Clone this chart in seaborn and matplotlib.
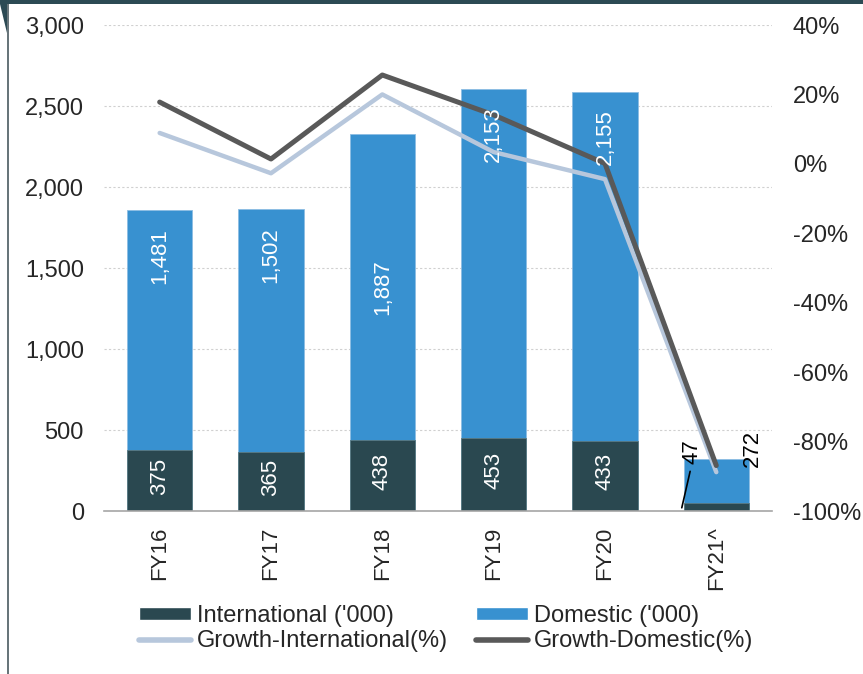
"""
Stacked passenger bars (international / domestic, '000) with growth lines on a
second axis, FY16 to FY21.
"""
import matplotlib
matplotlib.use("Agg")
import matplotlib.pyplot as plt
from matplotlib.lines import Line2D
from matplotlib.patches import Patch, Rectangle, Polygon
from matplotlib.ticker import FuncFormatter, FixedLocator
import numpy as np
import seaborn as sns

sns.set_style("white")
plt.rcParams["font.family"] = ["Liberation Sans", "DejaVu Sans"]

years = ["FY16", "FY17", "FY18", "FY19", "FY20", "FY21^"]
international = [375, 365, 438, 453, 433, 47]
domestic = [1481, 1502, 1887, 2153, 2155, 272]
growth_international = [8.9, -2.7, 20.0, 3.4, -4.4, -88.8]
growth_domestic = [17.8, 1.4, 25.6, 14.1, 0.1, -86.9]

DARK = "#2a4850"
BLUE = "#3891d0"
LIGHT_LINE = "#b7c7dc"
DARK_LINE = "#595959"

fig = plt.figure(figsize=(8.63, 6.74), dpi=100)
ax = fig.add_axes([0.1205, 0.2418, 0.774, 0.7211])

x = np.arange(len(years))
totals = [i + d for i, d in zip(international, domestic)]

# stacked look: total in blue, international drawn over it
sns.barplot(x=x, y=totals, color=BLUE, width=0.585, saturation=1, ax=ax,
            edgecolor="#8cbde3", linewidth=0.6, native_scale=True)
sns.barplot(x=x, y=international, color=DARK, width=0.585, saturation=1, ax=ax,
            edgecolor="#5a7a82", linewidth=0.6, native_scale=True)

ax.set_xlim(-0.5, len(years) - 0.5)
ax.set_ylim(0, 3000)
ax.set_yticks(range(0, 3001, 500))
ax.yaxis.set_major_formatter(FuncFormatter(lambda v, p: f"{int(v):,}"))
ax.set_xticks(x)
ax.set_xticklabels(years, rotation=90)
ax.xaxis.set_minor_locator(FixedLocator(np.arange(-0.5, len(years), 1.0)))
ax.tick_params(axis="x", which="major", length=0, pad=11, labelsize=16)
ax.tick_params(axis="x", which="minor", length=6, color="#a6a6a6", width=1.2)
ax.tick_params(axis="y", length=0, pad=14.5, labelsize=17)
ax.set_xlabel("")
ax.set_ylabel("")
ax.grid(axis="y", color="#d0d0d0", linestyle=(0, (2, 2)), linewidth=0.8)
ax.set_axisbelow(True)
for s in ["left", "right", "top"]:
    ax.spines[s].set_visible(False)
ax.spines["bottom"].set_color("#a6a6a6")
ax.spines["bottom"].set_linewidth(1.2)

ax2 = ax.twinx()
ax2.set_ylim(-100, 40)
ax2.set_yticks(range(-100, 41, 20))
ax2.yaxis.set_major_formatter(FuncFormatter(lambda v, p: f"{int(v)}%"))
ax2.tick_params(axis="y", length=0, pad=15, labelsize=17)
for s in ["left", "right", "top", "bottom"]:
    ax2.spines[s].set_visible(False)

sns.lineplot(x=x, y=growth_international, color=LIGHT_LINE, linewidth=3.2,
             ax=ax2, solid_capstyle="round")
sns.lineplot(x=x, y=growth_domestic, color=DARK_LINE, linewidth=3.6,
             ax=ax2, solid_capstyle="round")
ax2.set_ylabel("")

# value labels
dom_label_frac = [0.81, 0.81, 0.50, 0.87, 0.87]
for k in range(len(years) - 1):
    ax2.text(x[k], international[k] / 2 + 25, f"{international[k]:,}", transform=ax.transData,
             rotation=90, ha="center", va="center", color="white", fontsize=16, zorder=5)
    yd = international[k] + domestic[k] * dom_label_frac[k]
    ax2.text(x[k], yd, f"{domestic[k]:,}", transform=ax.transData,
             rotation=90, ha="center", va="center", color="white", fontsize=16, zorder=5)

last = len(years) - 1
ax2.text(x[last] - 0.22, 365, f"{international[last]}", transform=ax.transData,
         rotation=90, ha="center", va="center", color="black", fontsize=16, zorder=5)
ax2.text(x[last] + 0.32, 385, f"{domestic[last]}", transform=ax.transData,
         rotation=90, ha="center", va="center", color="black", fontsize=16, zorder=5)
ax.plot([x[last] - 0.31, x[last] - 0.235], [20, 245], color="black", linewidth=1.2)

handles = [
    Patch(facecolor=DARK, label="International ('000)"),
    Line2D([0], [0], color=LIGHT_LINE, linewidth=4, solid_capstyle="round",
           label="Growth-International(%)"),
    Patch(facecolor=BLUE, label="Domestic ('000)"),
    Line2D([0], [0], color=DARK_LINE, linewidth=4, solid_capstyle="round",
           label="Growth-Domestic(%)"),
]
fig.legend(handles=handles, loc="upper left", bbox_to_anchor=(0.161, 0.103),
           ncol=2, frameon=False, fontsize=17, handlelength=2.2, handleheight=0.45,
           handletextpad=0.25, columnspacing=1.19, labelspacing=0.15,
           borderpad=0, borderaxespad=0)

# report frame decoration
fig.patches.append(Rectangle((0, 1 - 4 / 674), 1, 4 / 674, transform=fig.transFigure,
                             facecolor="#2c4a54", edgecolor="none", zorder=10))
fig.lines.append(Line2D([8 / 863, 8 / 863], [0, 1], transform=fig.transFigure,
                        color="#4a5a60", linewidth=1.2))
fig.patches.append(Polygon([[0, 1 - 4 / 674], [7 / 863, 1 - 4 / 674], [7 / 863, 1 - 33 / 674]],
                           closed=True, transform=fig.transFigure,
                           facecolor="#2c4a54", edgecolor="none"))

fig.savefig("out.png", dpi=100)
